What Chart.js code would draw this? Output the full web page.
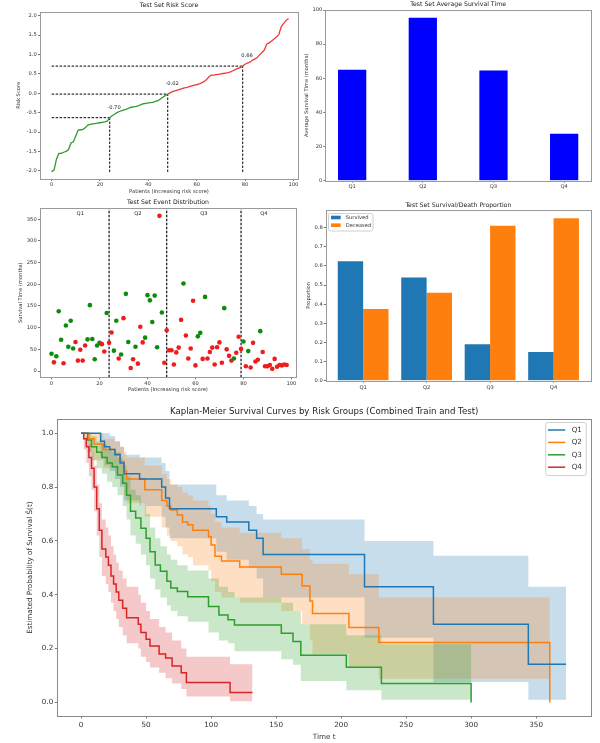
<!DOCTYPE html>
<html><head><meta charset="utf-8">
<script src="https://cdn.jsdelivr.net/npm/chart.js@4.4.1/dist/chart.umd.min.js"></script>
<style>
html,body{margin:0;padding:0;background:#fff;}
#wrap{position:relative;width:600px;height:743px;overflow:hidden;background:#fff;}
canvas{position:absolute;}
</style></head><body>
<div id="wrap">
<canvas id="cA"></canvas><canvas id="cB"></canvas><canvas id="cC"></canvas><canvas id="cD"></canvas><canvas id="cE"></canvas>
</div>
<script>
// ---------------- DATA ----------------
const groups = ['Q1','Q2','Q3','Q4'];
// risk score per patient, sorted
const riskScores = [-2.02,-1.98,-1.70,-1.55,-1.55,-1.52,-1.50,-1.45,-1.28,-1.25,
 -1.10,-0.95,-0.94,-0.93,-0.88,-0.82,-0.80,-0.79,-0.78,-0.77,
 -0.76,-0.75,-0.74,-0.72,-0.63,-0.58,-0.54,-0.50,-0.47,-0.45,
 -0.43,-0.41,-0.38,-0.36,-0.35,-0.34,-0.32,-0.29,-0.27,-0.26,
 -0.25,-0.24,-0.23,-0.21,-0.19,-0.15,-0.10,-0.06,-0.02,0.01,
 0.04,0.06,0.08,0.10,0.12,0.14,0.15,0.17,0.19,0.21,
 0.22,0.24,0.27,0.30,0.35,0.42,0.47,0.47,0.48,0.49,
 0.50,0.51,0.52,0.53,0.55,0.58,0.61,0.64,0.66,0.70,
 0.75,0.78,0.80,0.85,0.88,0.92,0.99,1.05,1.12,1.27,
 1.30,1.35,1.40,1.45,1.52,1.72,1.80,1.88,1.93];
const thresholds = [24, 48, 79];
const thresholdLabels = ['-0.70','-0.02','0.66'];
const riskTicksX = [0,20,40,60,80,100];
const riskTicksY = [-2.0,-1.5,-1.0,-0.5,0.0,0.5,1.0,1.5,2.0];

// survival time per patient & event (1 = deceased, 0 = survived)
const survivalTimes = [40,20,34,138,72,18,105,56,116,52,
 67,24,49,24,59,73,152,74,27,59,
 65,62,45,134,65,89,47,116,29,38,
 122,178,67,7,27,56,17,102,66,77,
 175,163,113,174,55,358,135,19,94,48,
 48,15,43,54,118,202,82,29,52,162,
 13,80,88,28,171,29,44,54,15,55,
 66,19,145,50,35,24,29,42,79,51,
 68,11,46,8,65,22,26,92,44,11,
 11,14,5,28,10,14,13,15,14];
const events = [0,1,0,0,0,1,0,0,0,0,
 1,1,1,1,1,0,0,0,0,0,
 0,1,1,0,1,1,0,0,1,0,
 1,0,0,1,1,0,1,1,1,0,
 0,0,0,0,0,1,0,1,1,1,
 1,1,1,1,1,0,1,1,1,1,
 1,0,0,1,0,1,1,1,1,1,
 1,1,0,1,1,1,0,1,1,1,
 0,1,0,1,1,1,1,0,1,1,
 1,1,1,1,1,1,1,1,1];
const groupBounds = [0, 24, 48, 79, 98];
const eventTicksY = [0,50,100,150,200,250,300,350];

const avgSurvival = [65, 95.5, 64.5, 27.5];
const avgTicksY = [0,20,40,60,80,100];

const survivedProp = [0.625, 0.54, 0.19, 0.15];
const deceasedProp = [0.375, 0.46, 0.81, 0.85];
const propTicksY = [0,0.1,0.2,0.3,0.4,0.5,0.6,0.7,0.8];

// Kaplan-Meier (time, survival, lower CI, upper CI)
const kmT_Q1  = [0,15,18,22,26,30,33,45,62,65,68,104,112,129,135,140,218,271,344,373];
const kmS_Q1  = [1,.97,.95,.94,.92,.89,.85,.83,.80,.76,.72,.69,.67,.64,.61,.55,.43,.29,.142,.142];
const kmLo_Q1 = [1,.91,.88,.86,.83,.80,.75,.73,.69,.65,.61,.56,.53,.50,.46,.39,.24,.076,.01,.01];
const kmHi_Q1 = [1,1,1,.99,.97,.95,.92,.91,.89,.86,.81,.77,.75,.73,.70,.68,.60,.545,.43,.43];

const kmT_Q2  = [0,6,10,17,26,30,33,35,49,62,66,69,74,78,82,86,98,100,103,108,122,154,170,176,178,206,229,360.5];
const kmS_Q2  = [1,.98,.96,.94,.925,.895,.86,.83,.79,.75,.73,.715,.696,.67,.66,.64,.616,.585,.543,.525,.503,.476,.433,.377,.33,.278,.223,0];
const kmLo_Q2 = [1,.93,.90,.87,.85,.81,.77,.74,.69,.65,.62,.60,.58,.55,.54,.51,.49,.45,.41,.39,.37,.34,.29,.23,.18,.13,.088,0];
const kmHi_Q2 = [1,1,1,.98,.97,.95,.93,.91,.88,.85,.83,.81,.80,.78,.77,.75,.73,.70,.67,.65,.63,.61,.57,.53,.515,.476,.39,0];

const kmT_Q3  = [0,5,8,12,16,20,24,28,32,35,38,42,46,50,53,57,61,66,69,74,82,98,106,113,118,154,163,169,204,231,300];
const kmS_Q3  = [1,.975,.95,.93,.91,.89,.876,.845,.814,.77,.71,.685,.647,.61,.56,.511,.487,.45,.425,.412,.393,.356,.325,.307,.288,.257,.226,.175,.131,.07,0];
const kmLo_Q3 = [1,.93,.90,.87,.85,.82,.80,.77,.73,.68,.62,.59,.55,.51,.46,.42,.39,.36,.34,.32,.30,.26,.23,.22,.19,.16,.14,.08,.045,.01,0];
const kmHi_Q3 = [1,1,.99,.97,.96,.94,.93,.91,.88,.84,.79,.77,.73,.70,.65,.61,.58,.55,.53,.51,.49,.46,.43,.41,.39,.37,.34,.29,.25,.216,0];

const kmT_Q4  = [0,2,4,6,8,10,12,14,16,19,21,23,25,27,29,32,35,44,46,50,53,60,65,70,77,81,114.6,131.8];
const kmS_Q4  = [1,.98,.95,.91,.87,.80,.72,.64,.57,.54,.51,.47,.44,.41,.38,.35,.315,.29,.26,.235,.21,.18,.165,.135,.11,.074,.037,.037];
const kmLo_Q4 = [1,.94,.89,.84,.79,.71,.62,.54,.47,.44,.41,.37,.34,.31,.28,.25,.22,.20,.17,.15,.13,.11,.09,.07,.05,.022,.004,.004];
const kmHi_Q4 = [1,1,.99,.96,.93,.88,.81,.74,.68,.65,.62,.58,.55,.52,.49,.46,.43,.40,.37,.34,.31,.28,.26,.23,.20,.17,.142,.142];

const kmTicksX = [0,50,100,150,200,250,300,350];
const kmTicksY = [0,0.2,0.4,0.6,0.8,1.0];

// ---------------- STYLE / HELPERS ----------------
const FONT = "'DejaVu Sans', 'Liberation Sans', sans-serif";
Chart.defaults.font.family = FONT;
Chart.defaults.color = '#333';
Chart.defaults.animation = false;
Chart.defaults.responsive = false;
Chart.defaults.maintainAspectRatio = false;
Chart.defaults.plugins.legend.display = false;
Chart.defaults.plugins.tooltip.enabled = false;
Chart.defaults.devicePixelRatio = 1;

const TAB = ['#1f77b4','#ff7f0e','#2ca02c','#d62728'];
const TABA = ['rgba(31,119,180,0.25)','rgba(255,127,14,0.25)','rgba(44,160,44,0.25)','rgba(214,39,40,0.25)'];

function place(id, r){
  const c = document.getElementById(id);
  c.width = r.w; c.height = r.h;
  c.style.left = r.x+'px'; c.style.top = r.y+'px';
  c.style.width = r.w+'px'; c.style.height = r.h+'px';
  return c;
}
function padFor(r, p, yW, xH){
  return {left: p.x0 - r.x - yW, top: p.y0 - r.y, right: r.x + r.w - p.x1, bottom: r.y + r.h - p.y1 - xH};
}
function axis(o){
  return {
    type:'linear', min:o.min, max:o.max, offset:false,
    afterBuildTicks: s => { s.ticks = o.ticks.map(v=>({value:v})); },
    afterFit: s => { if (o.horizontal) s.height = o.fixed; else s.width = o.fixed; },
    ticks:{ autoSkip:false, maxRotation:0, minRotation:0, padding:o.tickPad, color:'#333',
            font:{size:o.size}, callback:o.fmt },
    grid:{ display:true, offset:false, drawOnChartArea:false, drawTicks:true, tickLength:o.tickLen, color:'#555', lineWidth:0.8 },
    border:{ display:false },
    title:{ display:!!o.title, text:o.title, color:'#333', font:{size:o.size}, padding:o.titlePad||0 }
  };
}

// frame, title, annotations, legend
Chart.register({
  id:'decor',
  afterDraw(chart, args, o){
    if (!o) return;
    const ctx = chart.ctx, a = chart.chartArea;
    ctx.save();
    if (o.frame){
      ctx.strokeStyle = o.frame.color; ctx.lineWidth = o.frame.width;
      ctx.strokeRect(Math.round(a.left)+0.5, Math.round(a.top)+0.5, Math.round(a.right-a.left), Math.round(a.bottom-a.top));
    }
    if (o.title){
      ctx.fillStyle = '#222'; ctx.font = o.title.size+'px '+FONT;
      ctx.textAlign = 'center'; ctx.textBaseline = 'middle';
      ctx.fillText(o.title.text, (a.left+a.right)/2, o.title.cy);
    }
    if (o.notes){
      ctx.fillStyle = '#222'; ctx.font = o.notes.size+'px '+FONT;
      ctx.textAlign = 'center'; ctx.textBaseline = 'middle';
      const xs = chart.scales.x, ys = chart.scales.y;
      o.notes.items.forEach(it => ctx.fillText(it.text, xs.getPixelForValue(it.x), ys.getPixelForValue(it.y)));
    }
    if (o.legend){
      const L = o.legend;
      const x = L.anchor === 'tr' ? a.right - L.dx - L.w : a.left + L.dx;
      const y = a.top + L.dy;
      ctx.fillStyle = 'rgba(255,255,255,0.85)'; ctx.strokeStyle = '#d0d0d0'; ctx.lineWidth = 1;
      ctx.beginPath();
      if (ctx.roundRect) ctx.roundRect(x+0.5, y+0.5, L.w, L.h, 2); else ctx.rect(x+0.5,y+0.5,L.w,L.h);
      ctx.fill(); ctx.stroke();
      ctx.font = L.size+'px '+FONT; ctx.textAlign = 'left'; ctx.textBaseline = 'middle';
      L.items.forEach((it,i) => {
        const cy = y + L.first + i*L.row;
        if (it.kind === 'line'){
          ctx.strokeStyle = it.color; ctx.lineWidth = 1.5;
          ctx.beginPath(); ctx.moveTo(x+L.sx, cy); ctx.lineTo(x+L.sx+L.sw, cy); ctx.stroke();
        } else {
          ctx.fillStyle = it.color; ctx.fillRect(x+L.sx, cy-L.rh/2, L.sw, L.rh);
        }
        ctx.fillStyle = '#333'; ctx.fillText(it.label, x+L.tx, cy);
      });
    }
    ctx.restore();
  }
});

const GREEN_L = '#2e9a2e', RED_L = '#f03a3a';
const GREEN_P = '#0c8c0c', RED_P = '#f01c1c';
const S_SMALL = 5.2, S_TITLE = 6.2;

// ---------------- CHART A: risk score ----------------
(function(){
  const r = {x:0,y:0,w:300,h:200}, p = {x0:40,y0:11.7,x1:298,y1:179};
  const vBottom = -2.03;
  const ds = [{
    data: riskScores.map((v,i)=>({x:i,y:v})), borderColor:GREEN_L, borderWidth:1.3, pointRadius:0,
    segment:{ borderColor: c => c.p0DataIndex < thresholds[1] ? GREEN_L : RED_L }
  }];
  thresholds.forEach(t => {
    ds.push({data:[{x:0,y:riskScores[t]},{x:t,y:riskScores[t]}], borderColor:'#333', borderWidth:1.2, borderDash:[2.5,1.5], pointRadius:0});
    ds.push({data:[{x:t,y:vBottom},{x:t,y:riskScores[t]}], borderColor:'#333', borderWidth:1.2, borderDash:[2.5,1.5], pointRadius:0});
  });
  new Chart(place('cA', r), {
    type:'line', data:{datasets:ds},
    options:{
      layout:{padding:padFor(r,p,36,18)},
      scales:{
        x: axis({min:-4.8,max:101.9,ticks:riskTicksX,fmt:v=>String(v),size:S_SMALL,horizontal:true,fixed:18,tickLen:2,tickPad:0.5,
                 title:'Patients (Increasing risk score)',titlePad:{top:0,bottom:1.9}}),
        y: axis({min:-2.21,max:2.103,ticks:riskTicksY,fmt:v=>v.toFixed(1),size:S_SMALL,fixed:36,tickLen:2,tickPad:1.3,
                 title:'Risk Score',titlePad:{top:11.4,bottom:0}})
      },
      plugins:{ decor:{
        frame:{color:'#9a9a9a',width:1},
        title:{text:'Test Set Risk Score',size:S_TITLE,cy:5},
        notes:{size:S_SMALL, items: thresholds.map((t,k)=>({x:t+1.8, y:riskScores[t]+0.26, text:thresholdLabels[k]}))}
      }}
    }
  });
})();

// ---------------- CHART B: average survival ----------------
(function(){
  const r = {x:300,y:0,w:300,h:200}, p = {x0:325.3,y0:10,x1:591,y1:180.7};
  new Chart(place('cB', r), {
    type:'bar',
    data:{datasets:[{data: avgSurvival.map((v,i)=>({x:i,y:v})), backgroundColor:'#0000ff', borderWidth:0,
                     barPercentage:0.4, categoryPercentage:1}]},
    options:{
      layout:{padding:padFor(r,p,22,14)},
      scales:{
        x: axis({min:-0.38,max:3.38,ticks:[0,1,2,3],fmt:v=>groups[v],size:S_SMALL,horizontal:true,fixed:14,tickLen:2,tickPad:0.5}),
        y: axis({min:0,max:100,ticks:avgTicksY,fmt:v=>String(v),size:S_SMALL,fixed:22,tickLen:2,tickPad:1,
                 title:'Average Survival Time (months)',titlePad:{top:0.5,bottom:0}})
      },
      plugins:{ decor:{ frame:{color:'#9a9a9a',width:1}, title:{text:'Test Set Average Survival Time',size:S_TITLE,cy:4} } }
    }
  });
})();

// ---------------- CHART C: event distribution ----------------
(function(){
  const r = {x:0,y:195,w:300,h:205}, p = {x0:40,y0:208.3,x1:298,y1:377.3};
  const yMin = -14.5, yMax = 375.4;
  const ds = [{
    data: survivalTimes.map((v,i)=>({x:i,y:v})), showLine:false, pointRadius:2.3, pointBorderWidth:0,
    pointBackgroundColor: events.map(e => e ? RED_P : GREEN_P)
  }];
  thresholds.forEach(t => ds.push({data:[{x:t,y:yMin},{x:t,y:yMax}], showLine:true, borderColor:'#222', borderWidth:1.3, borderDash:[2.5,1.5], pointRadius:0}));
  const mids = groups.map((g,i)=>({x:(groupBounds[i]+groupBounds[i+1])/2, y:362, text:g}));
  new Chart(place('cC', r), {
    type:'scatter', data:{datasets:ds},
    options:{
      layout:{padding:padFor(r,p,36,18)},
      scales:{
        x: axis({min:-4.8,max:101.9,ticks:riskTicksX,fmt:v=>String(v),size:S_SMALL,horizontal:true,fixed:18,tickLen:2,tickPad:1,
                 title:'Patients (Increasing risk score)',titlePad:{top:0,bottom:2.2}}),
        y: axis({min:yMin,max:yMax,ticks:eventTicksY,fmt:v=>String(v),size:S_SMALL,fixed:36,tickLen:2,tickPad:1.3,
                 title:'Survival Time (months)',titlePad:{top:13.6,bottom:0}})
      },
      plugins:{ decor:{ frame:{color:'#9a9a9a',width:1}, title:{text:'Test Set Event Distribution',size:S_TITLE,cy:7.3},
                        notes:{size:S_SMALL, items:mids} } }
    }
  });
})();

// ---------------- CHART D: survival / death proportion ----------------
(function(){
  const r = {x:300,y:195,w:300,h:205}, p = {x0:325.7,y0:210,x1:591,y1:380.7};
  new Chart(place('cD', r), {
    type:'bar',
    data:{datasets:[
      {label:'Survived', data: survivedProp.map((v,i)=>({x:i,y:v})), backgroundColor:'#1f77b4', borderWidth:0, barPercentage:1, categoryPercentage:0.8},
      {label:'Deceased', data: deceasedProp.map((v,i)=>({x:i,y:v})), backgroundColor:'#ff7f0e', borderWidth:0, barPercentage:1, categoryPercentage:0.8}
    ]},
    options:{
      layout:{padding:padFor(r,p,22,14)},
      scales:{
        x: axis({min:-0.59,max:3.59,ticks:[0,1,2,3],fmt:v=>groups[v],size:S_SMALL,horizontal:true,fixed:14,tickLen:2,tickPad:2}),
        y: axis({min:0,max:0.8925,ticks:propTicksY,fmt:v=>v.toFixed(1),size:S_SMALL,fixed:22,tickLen:2,tickPad:1,
                 title:'Proportion',titlePad:{top:2.2,bottom:0}})
      },
      plugins:{ decor:{
        frame:{color:'#9a9a9a',width:1},
        title:{text:'Test Set Survival/Death Proportion',size:S_TITLE,cy:10},
        legend:{anchor:'tl',dx:2.3,dy:3,w:44.5,h:17.5,first:4.5,row:7.7,sx:3,sw:9.7,rh:3.6,tx:17.7,size:S_SMALL,
                items:[{label:'Survived',color:'#1f77b4',kind:'rect'},{label:'Deceased',color:'#ff7f0e',kind:'rect'}]}
      }}
    }
  });
})();

// ---------------- CHART E: Kaplan-Meier ----------------
(function(){
  const r = {x:0,y:400,w:600,h:343}, p = {x0:57.3,y0:419.3,x1:591,y1:716};
  const T = [kmT_Q1,kmT_Q2,kmT_Q3,kmT_Q4], S = [kmS_Q1,kmS_Q2,kmS_Q3,kmS_Q4];
  const LO = [kmLo_Q1,kmLo_Q2,kmLo_Q3,kmLo_Q4], HI = [kmHi_Q1,kmHi_Q2,kmHi_Q3,kmHi_Q4];
  const pts = (t, v) => t.map((x,i)=>({x:x, y:v[i]}));
  const ds = [];
  // lines on top (order 0); bands drawn Q1 first (highest order) so later groups overlay earlier ones
  groups.forEach((g,k) => ds.push({label:g, data:pts(T[k],S[k]), stepped:'before', borderColor:TAB[k], borderWidth:1.5, pointRadius:0, fill:false, order:0}));
  groups.forEach((g,k) => {
    ds.push({data:pts(T[k],HI[k]), stepped:'before', borderColor:'rgba(0,0,0,0)', borderWidth:0, pointRadius:0, backgroundColor:TABA[k], fill:'+1', order:20-2*k});
    ds.push({data:pts(T[k],LO[k]), stepped:'before', borderColor:'rgba(0,0,0,0)', borderWidth:0, pointRadius:0, fill:false, order:19-2*k});
  });
  new Chart(place('cE', r), {
    type:'line', data:{datasets:ds},
    options:{
      layout:{padding:padFor(r,p,42,27)},
      scales:{
        x: axis({min:-18.3,max:392.2,ticks:kmTicksX,fmt:v=>String(v),size:7.2,horizontal:true,fixed:27,tickLen:2.5,tickPad:2.3,
                 title:'Time t',titlePad:{top:0,bottom:1.4}}),
        y: axis({min:-0.0505,max:1.052,ticks:kmTicksY,fmt:v=>v.toFixed(1),size:7.2,fixed:42,tickLen:2.5,tickPad:1.5,
                 title:'Estimated Probability of Survival Ŝ(t)',titlePad:{top:10.4,bottom:0}})
      },
      plugins:{ decor:{
        frame:{color:'#8a8a8a',width:1},
        title:{text:'Kaplan-Meier Survival Curves by Risk Groups (Combined Train and Test)',size:8.6,cy:11.7},
        legend:{anchor:'tr',dx:5.3,dy:2.7,w:40.5,h:53,first:8,row:12.4,sx:2.7,sw:17.3,rh:2,tx:26.5,size:7.2,
                items:groups.map((g,k)=>({label:g,color:TAB[k],kind:'line'}))}
      }}
    }
  });
})();
</script>
</body></html>
